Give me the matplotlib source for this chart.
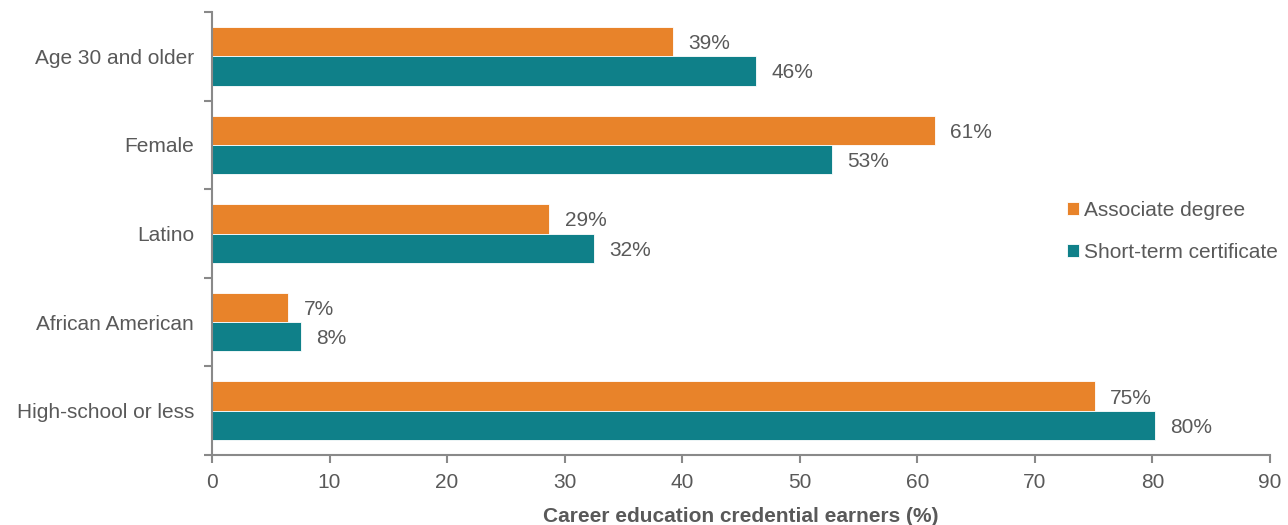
import matplotlib.pyplot as plt
import numpy as np

plt.rcParams['font.family'] = ['Liberation Sans', 'DejaVu Sans']

categories = ['Age 30 and older', 'Female', 'Latino', 'African American', 'High-school or less']
associate = [39.2, 61.5, 28.7, 6.5, 75.1]
certificate = [46.3, 52.7, 32.5, 7.6, 80.2]
associate_labels = ['39%', '61%', '29%', '7%', '75%']
certificate_labels = ['46%', '53%', '32%', '8%', '80%']

orange = '#E8832A'
teal = '#0F8089'
grey = '#595959'
axis_grey = '#898989'

fig = plt.figure(figsize=(12.88, 5.25), dpi=100)
ax = fig.add_axes([212/1288, 1 - 455/525, (1270 - 212)/1288, (455 - 12)/525])

y = np.arange(len(categories))[::-1]
h = 0.33
b1 = ax.barh(y + h/2, associate, height=h, color=orange, edgecolor='white', linewidth=0.6, label='Associate degree')
b2 = ax.barh(y - h/2, certificate, height=h, color=teal, edgecolor='white', linewidth=0.6, label='Short-term certificate')

for bar, lab in zip(b1, associate_labels):
    ax.text(bar.get_width() + 1.3, bar.get_y() + bar.get_height()/2, lab,
            va='center_baseline', ha='left', fontsize=15, color=grey)
for bar, lab in zip(b2, certificate_labels):
    ax.text(bar.get_width() + 1.3, bar.get_y() + bar.get_height()/2, lab,
            va='center_baseline', ha='left', fontsize=15, color=grey)

ax.set_xlim(0, 90)
ax.set_ylim(-0.5, len(categories) - 0.5)
ax.set_xticks(np.arange(0, 91, 10))
ax.set_yticks(y)
ax.set_yticklabels(categories)
ax.set_yticks(np.arange(-0.5, len(categories), 1), minor=True)
ax.tick_params(axis='y', which='major', length=0, pad=13, labelsize=15, labelcolor=grey)
ax.tick_params(axis='y', which='minor', length=6, width=1.5, color=axis_grey)
ax.tick_params(axis='x', length=6, width=1.5, color=axis_grey, labelsize=15, labelcolor=grey, pad=7)

for s in ['top', 'right']:
    ax.spines[s].set_visible(False)
for s in ['left', 'bottom']:
    ax.spines[s].set_color(axis_grey)
    ax.spines[s].set_linewidth(1.5)

ax.set_xlabel('Career education credential earners (%)', fontsize=15, fontweight='bold',
              color=grey, labelpad=11)

ax.legend(loc='center left', bbox_to_anchor=(0.79, 0.505), frameon=False, fontsize=15,
          labelcolor=grey, handlelength=0.6, handleheight=0.6, handletextpad=0.25,
          labelspacing=1.1)

plt.savefig('out.png', dpi=100)
